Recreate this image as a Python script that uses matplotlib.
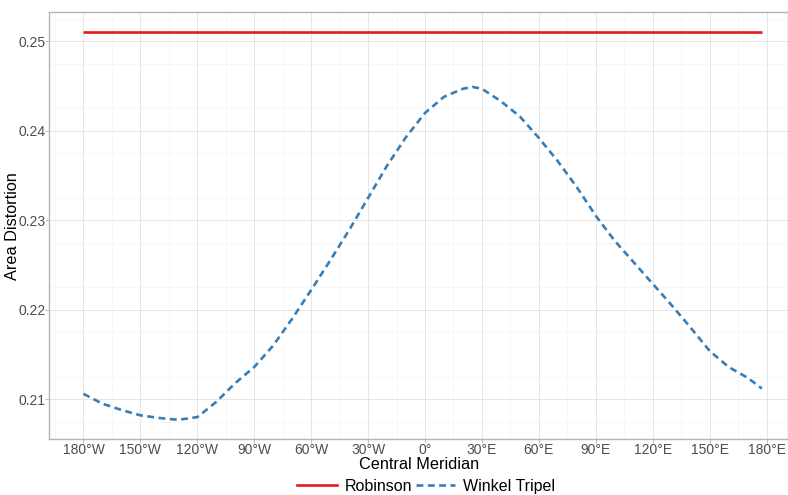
import matplotlib
matplotlib.use("Agg")
from matplotlib import pyplot as plt
from matplotlib.lines import Line2D

# central meridian (degrees) and area distortion values
meridian = [-180, -170, -160, -150, -140, -130, -120, -110, -100, -90,
            -80, -70, -60, -50, -40, -30, -20, -10, 0, 10,
            20, 25, 30, 40, 50, 60, 70, 80, 90, 100,
            110, 120, 130, 140, 150, 160, 170, 177.5]
winkel = [0.2106, 0.2095, 0.2088, 0.2082, 0.2079, 0.2077, 0.2080, 0.2097, 0.2118, 0.2136,
          0.2160, 0.2190, 0.2222, 0.2255, 0.2289, 0.2325, 0.2361, 0.2393, 0.2420, 0.2438,
          0.2447, 0.2449, 0.2447, 0.2433, 0.2416, 0.2392, 0.2366, 0.2337, 0.2305, 0.2277,
          0.2253, 0.2229, 0.2205, 0.2180, 0.2154, 0.2136, 0.2124, 0.2112]
robinson = [0.2511] * len(meridian)

xticks = list(range(-180, 181, 30))
xlabels = ["180°W", "150°W", "120°W", "90°W", "60°W", "30°W", "0°",
           "30°E", "60°E", "90°E", "120°E", "150°E", "180°E"]
yticks = [0.21, 0.22, 0.23, 0.24, 0.25]

plt.rcParams["font.family"] = ["Liberation Sans", "DejaVu Sans"]

fig = plt.figure(figsize=(7.88, 4.95), dpi=100)
ax = fig.add_axes([49.3 / 788, 1 - 439.3 / 495, (788 - 49.3) / 788, (439.3 - 12) / 495])

ax.plot(meridian, robinson, color="#E41A1C", lw=1.9, solid_capstyle="butt")
ax.plot(meridian, winkel, color="#377EB8", lw=1.9, ls=(0, (2.6, 1.7)), dash_capstyle="butt")

ax.set_xlim(-198.0, 191.3)
ax.set_ylim(0.20552, 0.25328)
ax.set_xticks(xticks)
ax.set_xticklabels(xlabels)
ax.set_yticks(yticks)
ax.set_yticklabels(["0.21", "0.22", "0.23", "0.24", "0.25"])
ax.set_xticks([x + 15 for x in xticks[:-1]] + [-195], minor=True)
ax.set_yticks([0.2075, 0.2125, 0.2175, 0.2225, 0.2275, 0.2325, 0.2375, 0.2425, 0.2475, 0.2525], minor=True)
ax.grid(which="major", color="#E2E2E2", lw=0.6)
ax.grid(which="minor", color="#F1F1F1", lw=0.4)
ax.set_axisbelow(True)
ax.tick_params(which="major", color="#B3B3B3", length=2.6, width=0.6, labelsize=10, labelcolor="#4D4D4D", pad=0.3)
ax.tick_params(which="minor", length=0)
for s in ax.spines.values():
    s.set_color("#B3B3B3")
    s.set_linewidth(1.0)

ax.set_xlabel("Central Meridian", fontsize=11.7)
ax.xaxis.set_label_coords(0.5, -0.042)
ax.set_ylabel("Area Distortion", fontsize=11.7)
ax.yaxis.set_label_coords(-0.040, 0.5)

handles = [Line2D([], [], color="#E41A1C", lw=1.9),
           Line2D([], [], color="#377EB8", lw=1.9, ls=(0, (2.6, 1.7)))]
fig.legend(handles, ["Robinson", "Winkel Tripel"], loc="center", bbox_to_anchor=(0.541, 0.018),
           ncol=2, frameon=False, fontsize=11.5, handlelength=2.45, columnspacing=0.25,
           handletextpad=0.5)

fig.savefig("out.png", dpi=100)
